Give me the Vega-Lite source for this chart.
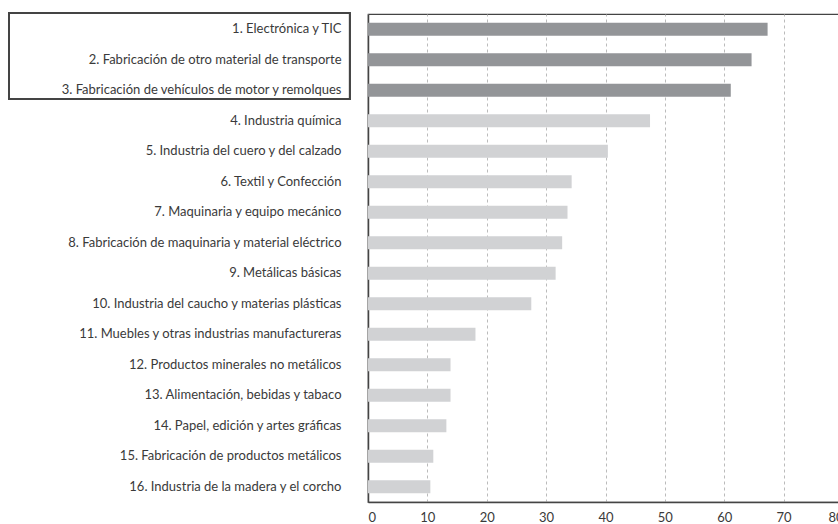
{
  "$schema": "https://vega.github.io/schema/vega-lite/v6.json",
  "autosize": "none",
  "width": 475,
  "height": 488,
  "padding": {"left": 368, "top": 14, "right": 0, "bottom": 22},
  "background": "white",
  "config": {
    "view": {"stroke": "#444444", "strokeWidth": 1.2},
    "font": "Lato"
  },
  "data": {
    "values": [
      {"sector": "1. Electrónica y TIC", "valor": 67.3, "destacado": "si"},
      {"sector": "2. Fabricación de otro material de transporte", "valor": 64.6, "destacado": "si"},
      {"sector": "3. Fabricación de vehículos de motor y remolques", "valor": 61.1, "destacado": "si"},
      {"sector": "4. Industria química", "valor": 47.5, "destacado": "no"},
      {"sector": "5. Industria del cuero y del calzado", "valor": 40.4, "destacado": "no"},
      {"sector": "6. Textil y Confección", "valor": 34.3, "destacado": "no"},
      {"sector": "7. Maquinaria y equipo mecánico", "valor": 33.6, "destacado": "no"},
      {"sector": "8. Fabricación de maquinaria y material eléctrico", "valor": 32.7, "destacado": "no"},
      {"sector": "9. Metálicas básicas", "valor": 31.6, "destacado": "no"},
      {"sector": "10. Industria del caucho y materias plásticas", "valor": 27.5, "destacado": "no"},
      {"sector": "11. Muebles y otras industrias manufactureras", "valor": 18.1, "destacado": "no"},
      {"sector": "12. Productos minerales no metálicos", "valor": 13.9, "destacado": "no"},
      {"sector": "13. Alimentación, bebidas y tabaco", "valor": 13.9, "destacado": "no"},
      {"sector": "14. Papel, edición y artes gráficas", "valor": 13.2, "destacado": "no"},
      {"sector": "15. Fabricación de productos metálicos", "valor": 11.0, "destacado": "no"},
      {"sector": "16. Industria de la madera y el corcho", "valor": 10.5, "destacado": "no"}
    ]
  },
  "layer": [
    {
      "mark": {"type": "bar", "clip": false},
      "encoding": {
        "y": {
          "field": "sector",
          "type": "nominal",
          "sort": null,
          "scale": {"paddingInner": 0.57, "paddingOuter": 0.285},
          "axis": {
            "title": null,
            "ticks": false,
            "labelPadding": 27,
            "labelLimit": 400,
            "labelFontSize": 13,
            "labelColor": "#3a3a3a",
            "domainColor": "#444444",
            "domainWidth": 1.5
          }
        },
        "x": {
          "field": "valor",
          "type": "quantitative",
          "scale": {"domain": [0, 80], "nice": false},
          "axis": {
            "title": null,
            "values": [0, 10, 20, 30, 40, 50, 60, 70, 80],
            "ticks": false,
            "labelPadding": 9,
            "labelFontSize": 13,
            "labelColor": "#3a3a3a",
            "domainColor": "#444444",
            "domainWidth": 1.5,
            "gridColor": "#bbbbbb",
            "gridDash": [3, 3],
            "gridWidth": 1
          }
        },
        "color": {
          "field": "destacado",
          "type": "nominal",
          "scale": {"domain": ["si", "no"], "range": ["#939598", "#d1d2d4"]},
          "legend": null
        }
      }
    },
    {
      "mark": {"type": "rect", "clip": false, "fill": null, "stroke": "#444444", "strokeWidth": 1.2},
      "encoding": {
        "y": {"datum": "1. Electrónica y TIC", "type": "nominal", "bandPosition": -0.76},
        "y2": {"datum": "3. Fabricación de vehículos de motor y remolques", "bandPosition": 1.19},
        "x": {"datum": -60.5, "type": "quantitative"},
        "x2": {"datum": -3.1}
      }
    }
  ]
}
